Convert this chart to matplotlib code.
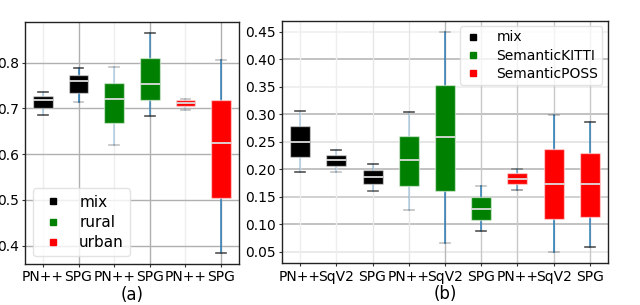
import matplotlib
matplotlib.use("Agg")
import matplotlib.pyplot as plt
from matplotlib.lines import Line2D
import numpy as np

# ---------------- data ----------------
# panel (a)
a_labels = ["PN++", "SPG", "PN++", "SPG", "PN++", "SPG"]
a_groups = ["mix", "mix", "rural", "rural", "urban", "urban"]
a_whislo = [0.686, 0.714, 0.621, 0.684, 0.697, 0.384]
a_q1     = [0.701, 0.734, 0.669, 0.719, 0.706, 0.504]
a_med    = [0.719, 0.759, 0.721, 0.754, 0.713, 0.625]
a_q3     = [0.727, 0.773, 0.756, 0.810, 0.718, 0.718]
a_whishi = [0.735, 0.788, 0.790, 0.865, 0.720, 0.805]
a_legend = ["mix", "rural", "urban"]

# panel (b)
b_labels = ["PN++", "SqV2", "SPG", "PN++", "SqV2", "SPG", "PN++", "SqV2", "SPG"]
b_groups = ["mix", "mix", "mix", "SemanticKITTI", "SemanticKITTI", "SemanticKITTI",
            "SemanticPOSS", "SemanticPOSS", "SemanticPOSS"]
b_whislo = [0.195, 0.195, 0.161, 0.126, 0.065, 0.087, 0.163, 0.049, 0.059]
b_q1     = [0.222, 0.205, 0.173, 0.170, 0.161, 0.107, 0.173, 0.109, 0.114]
b_med    = [0.250, 0.216, 0.185, 0.216, 0.258, 0.128, 0.183, 0.174, 0.173]
b_q3     = [0.279, 0.226, 0.198, 0.261, 0.354, 0.149, 0.193, 0.236, 0.230]
b_whishi = [0.306, 0.235, 0.209, 0.304, 0.449, 0.170, 0.200, 0.299, 0.286]
b_legend = ["mix", "SemanticKITTI", "SemanticPOSS"]

# ---------------- styles ----------------
a_colors = {"mix": "black", "rural": "green", "urban": "red"}
b_colors = {"mix": "black", "SemanticKITTI": "green", "SemanticPOSS": "red"}
# per-box alpha of whiskers and of (low, high) caps
a_wh_alpha = [0.35, 0.9, 0.3, 0.75, 0.2, 0.85]
a_cap_alpha = [(0.85, 0.85), (0.3, 0.85), (0.3, 0.3), (0.85, 0.85), (0.3, 0.3), (0.85, 0.3)]
b_wh_alpha = [0.3, 0.3, 0.35, 0.3, 0.85, 0.85, 0.6, 0.9, 0.85]
b_cap_alpha = [(0.85, 0.85), (0.3, 0.85), (0.75, 0.85), (0.3, 0.85), (0.3, 0.3),
               (0.85, 0.3), (0.5, 0.5), (0.3, 0.3), (0.85, 0.85)]

plt.rcParams['font.family'] = 'DejaVu Sans'

fig = plt.figure(figsize=(6.4, 3.05), dpi=100)
axa = fig.add_axes([25/640, 41/305, 214/640, 242/305])
axb = fig.add_axes([282/640, 41.7/305, 326/640, 242.6/305])


def draw(ax, labels, groups, wl, q1, med, q3, wh, colors, wh_alpha, cap_alpha):
    stats = []
    for i in range(len(labels)):
        stats.append(dict(whislo=wl[i], q1=q1[i], med=med[i], q3=q3[i],
                          whishi=wh[i], fliers=[], label=labels[i]))
    pos = np.arange(1, len(labels) + 1)
    res = ax.bxp(stats, positions=pos, widths=0.55, patch_artist=True,
                 showfliers=False, zorder=3)
    for i, b in enumerate(res['boxes']):
        b.set_facecolor(colors[groups[i]])
        b.set_edgecolor((1, 1, 1, 0.5))
        b.set_linewidth(1.0)
    for m in res['medians']:
        m.set_color('#dddddd')
        m.set_linewidth(1.3)
    for i in range(len(labels)):
        for w in res['whiskers'][2*i:2*i+2]:
            w.set_color('#1f77b4')
            w.set_alpha(wh_alpha[i])
            w.set_linewidth(1.2)
            w.set_zorder(2)
        for j, c in enumerate(res['caps'][2*i:2*i+2]):
            c.set_color('#333333')
            c.set_alpha(cap_alpha[i][j])
            c.set_linewidth(1.2)
    ax.set_xlim(0.5, len(labels) + 0.5)
    ax.set_xticks(pos)
    ax.set_xticklabels(labels, fontsize=10)
    ax.tick_params(axis='both', which='both', length=2.5, pad=2, labelsize=10,
                   color='#333333')
    for s in ax.spines.values():
        s.set_color('#222222')
        s.set_linewidth(1.0)
    ax.set_axisbelow(True)
    return pos


pa = draw(axa, a_labels, a_groups, a_whislo, a_q1, a_med, a_q3, a_whishi,
          a_colors, a_wh_alpha, a_cap_alpha)
axa.set_ylim(0.360, 0.889)
axa.set_yticks([0.4, 0.5, 0.6, 0.7, 0.8])
axa.grid(axis='y', which='major', color='#b0b0b0', linewidth=1.0)
a_vgrid = ['#eeeeee', '#b0b0b0', '#eeeeee', '#b0b0b0', '#eeeeee', '#b0b0b0']
for p, c in zip(pa, a_vgrid):
    axa.axvline(p, color=c, linewidth=1.0, zorder=0)
axa.set_xlabel("(a)", fontsize=12, labelpad=1)

pb = draw(axb, b_labels, b_groups, b_whislo, b_q1, b_med, b_q3, b_whishi,
          b_colors, b_wh_alpha, b_cap_alpha)
axb.set_ylim(0.029, 0.470)
axb.set_yticks([0.05, 0.10, 0.15, 0.20, 0.25, 0.30, 0.35, 0.40, 0.45])
axb.set_yticklabels(["0.05", "0.10", "0.15", "0.20", "0.25", "0.30", "0.35", "0.40", "0.45"])
b_hgrid = ['#e6e6e6', '#b8b8b8', '#c8c8c8', '#b8b8b8', '#e0e0e0', '#b8b8b8',
           '#ececec', '#b8b8b8', '#f0f0f0']
for y, c in zip([0.05, 0.10, 0.15, 0.20, 0.25, 0.30, 0.35, 0.40, 0.45], b_hgrid):
    axb.axhline(y, color=c, linewidth=1.2, zorder=0)
b_vgrid = ['#eeeeee', '#eeeeee', '#e6e6e6', '#e6e6e6', '#b8b8b8', '#c8c8c8',
           '#c8c8c8', '#c8c8c8', '#c8c8c8']
for p, c in zip(pb, b_vgrid):
    axb.axvline(p, color=c, linewidth=1.0, zorder=0)
axb.set_xlabel("(b)", fontsize=12, labelpad=1)


def handles(names, colors):
    return [Line2D([], [], marker='s', linestyle='none', markersize=4,
                   color=colors[n]) for n in names]


axa.legend(handles(a_legend, a_colors), a_legend, loc='lower left',
           fontsize=11, handlelength=1.8, handletextpad=0.85, labelspacing=0.35,
           borderpad=0.4, framealpha=0.8, edgecolor='#dddddd')
axb.legend(handles(b_legend, b_colors), b_legend, loc='upper right',
           fontsize=10, handlelength=1.2, handletextpad=1.1, labelspacing=0.3,
           borderpad=0.3, borderaxespad=0.4, framealpha=0.8, edgecolor='#dddddd')

fig.savefig("out.png", dpi=100)
